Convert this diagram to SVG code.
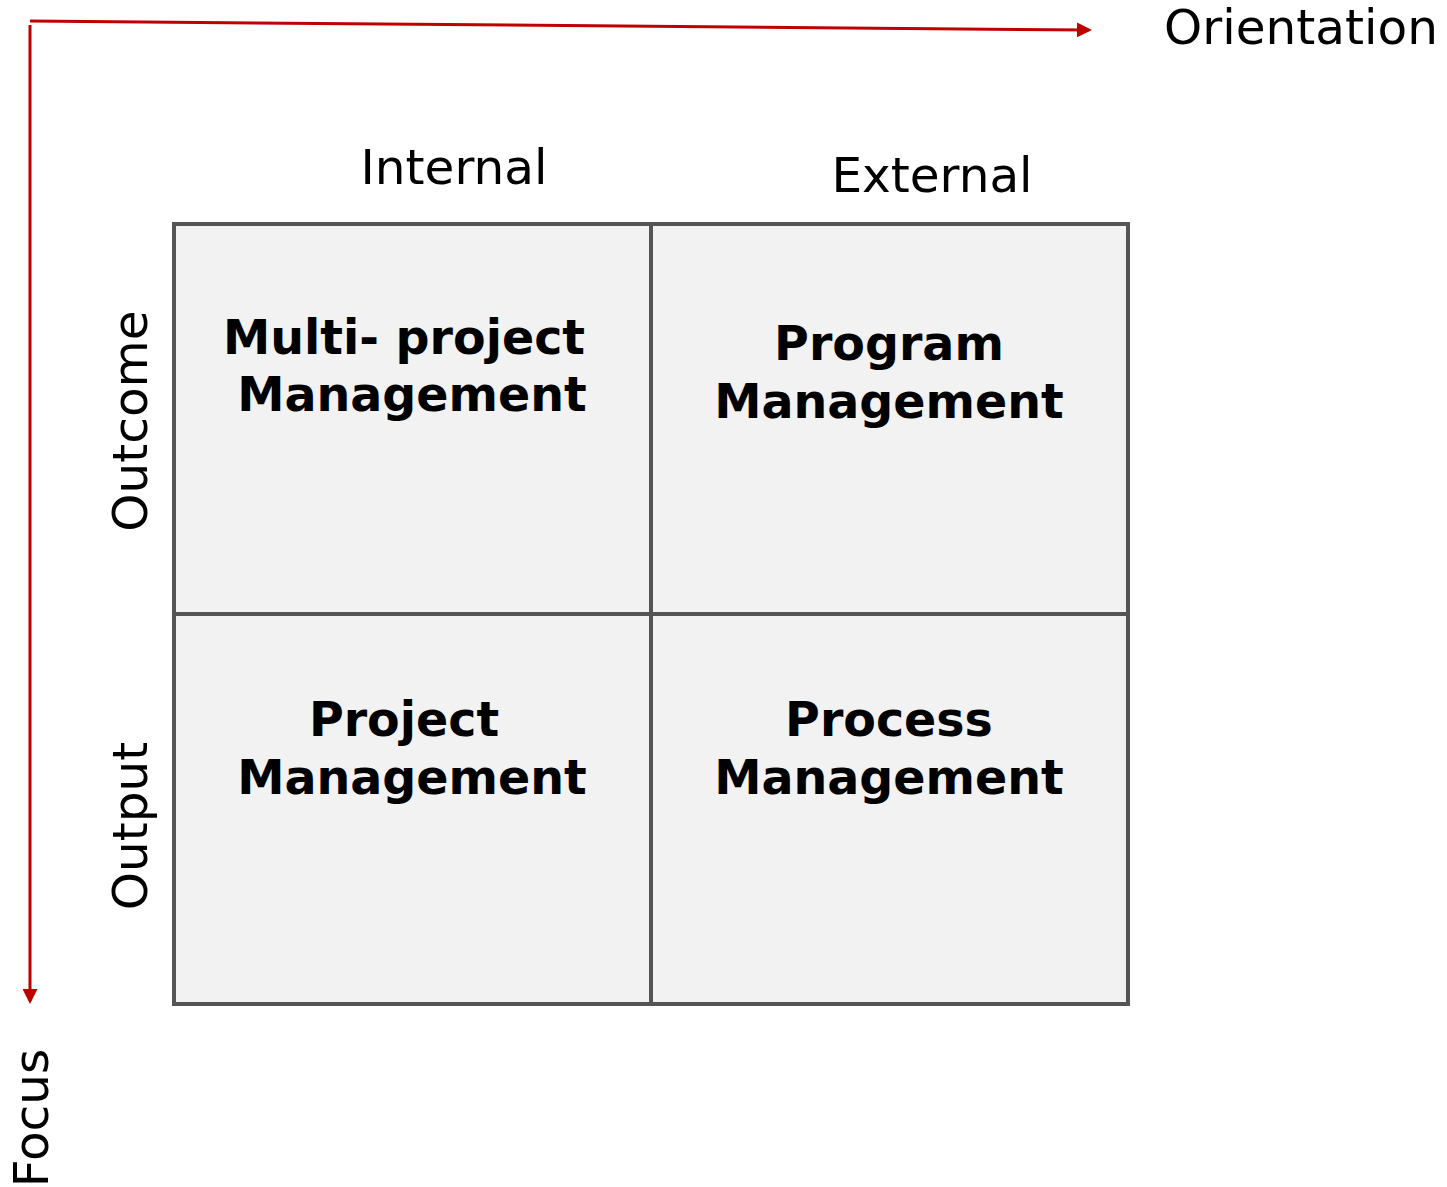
<svg xmlns="http://www.w3.org/2000/svg" width="1447" height="1187" viewBox="0 0 1447 1187">
<style>
.ax{stroke:#c00000;stroke-width:3;fill:none}
.cell{fill:#f2f2f2;stroke:#555;stroke-width:4}
.lbl{font-family:"DejaVu Sans",Verdana,sans-serif;font-size:48.5px;fill:#000}
.b{font-family:"DejaVu Sans",Verdana,sans-serif;font-size:47.5px;font-weight:bold;fill:#000;text-anchor:middle}
</style>
<defs>
<marker id="ah" markerWidth="5" markerHeight="5" refX="4" refY="2.5" orient="auto" markerUnits="strokeWidth">
<path d="M0,0 L5,2.5 L0,5 Z" fill="#c00000"/>
</marker>
</defs>
<g id="connectors">
<path class="ax" d="M30,21 L1089,30" marker-end="url(#ah)"/>
<path class="ax" d="M30,25 L30,1001" marker-end="url(#ah)"/>
</g>
<g id="cell-multi"><rect class="cell" x="174" y="224" width="477" height="390"/>
<text class="b" x="404" y="354">Multi- project</text><text class="b" x="412" y="411">Management</text></g>
<g id="cell-program"><rect class="cell" x="651" y="224" width="477" height="390"/>
<text class="b" x="889" y="360">Program</text><text class="b" x="889" y="418">Management</text></g>
<g id="cell-project"><rect class="cell" x="174" y="614" width="477" height="390"/>
<text class="b" x="404" y="736">Project</text><text class="b" x="412" y="794">Management</text></g>
<g id="cell-process"><rect class="cell" x="651" y="614" width="477" height="390"/>
<text class="b" x="889" y="736">Process</text><text class="b" x="889" y="794">Management</text></g>
<g id="labels">
<text class="lbl" x="1301" y="44" text-anchor="middle">Orientation</text>
<text class="lbl" x="454" y="184" text-anchor="middle">Internal</text>
<text class="lbl" x="932" y="192" text-anchor="middle">External</text>
<text class="lbl" text-anchor="middle" transform="translate(147,421) rotate(-90)">Outcome</text>
<text class="lbl" text-anchor="middle" transform="translate(147,826) rotate(-90)">Output</text>
<text class="lbl" text-anchor="middle" transform="translate(48,1118) rotate(-90)">Focus</text>
</g>
</svg>
